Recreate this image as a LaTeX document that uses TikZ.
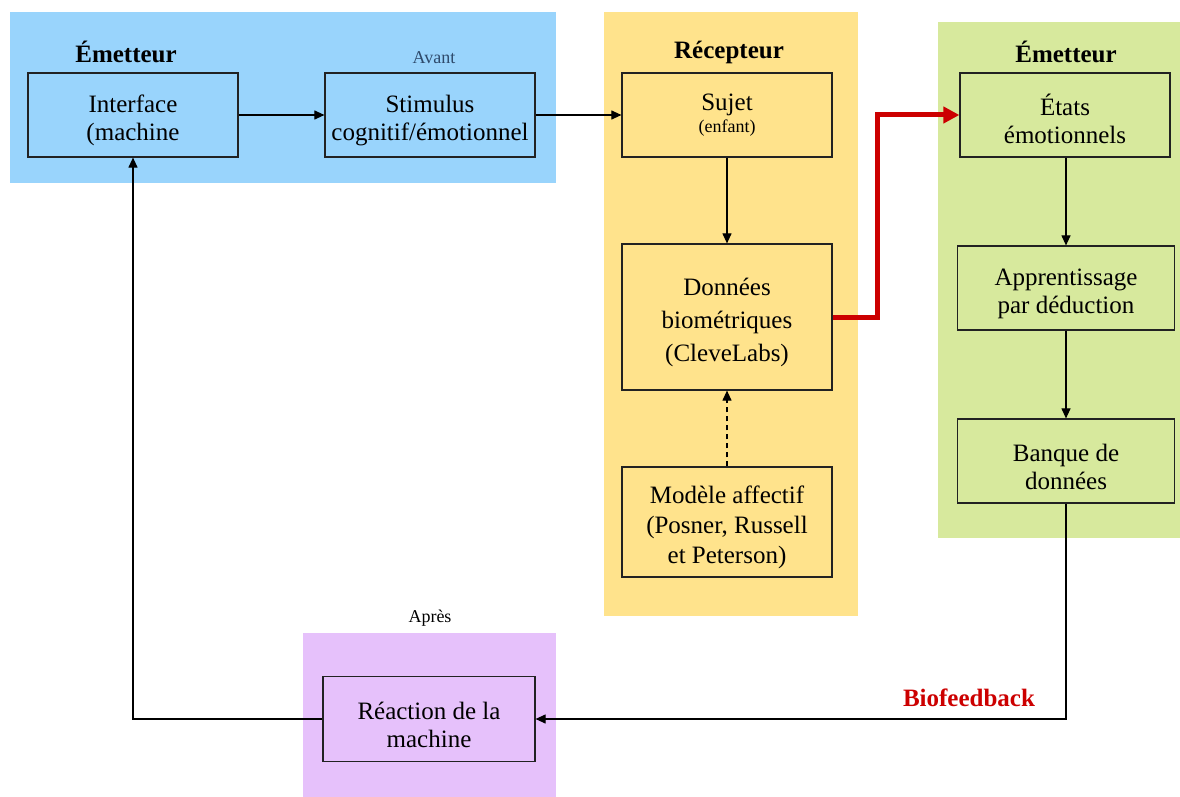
\documentclass[tikz,border=0pt]{standalone}
\usepackage{fontspec}
\setmainfont{Liberation Serif}
\usetikzlibrary{arrows.meta,calc}
\definecolor{pblue}{HTML}{99D4FC}
\definecolor{pyellow}{HTML}{FFE38C}
\definecolor{pgreen}{HTML}{D7E99D}
\definecolor{ppurple}{HTML}{E6C1FB}
\definecolor{avantc}{HTML}{2E4A6B}
\definecolor{redarrow}{HTML}{CC0000}
\definecolor{boxline}{HTML}{222222}
\newcommand{\lowstrut}{\rule{0pt}{29pt}}
\tikzset{
  box/.style={draw=boxline, line width=1.2pt, align=center, inner sep=0pt,
    font=\fontsize{25}{28}\selectfont},
  title/.style={font=\bfseries\fontsize{25}{28}\selectfont, inner sep=0pt},
  small/.style={font=\fontsize{18}{20}\selectfont, inner sep=0pt},
  conn/.style={draw=black, line width=1.1pt, -{Triangle[length=10pt,width=9pt]}},
}
\begin{document}
\begin{tikzpicture}[x=1pt,y=-1pt]
\useasboundingbox (0,0) rectangle (1180,797);
% panels
\fill[pblue] (10,12) rectangle (556,183);
\fill[pyellow] (604,12) rectangle (858,616);
\fill[pgreen] (938,22) rectangle (1180,538);
\fill[ppurple] (303,633) rectangle (556,797);
% titles
\node[title] (t1) at (126,52) {Émetteur};
\node[title] (t2) at (729,52) {Récepteur};
\node[title] (t3) at (1066,52) {Émetteur};
\node[small, text=avantc] (avant) at (434,58) {Avant};
\node[small] (apres) at (430,618) {Après};
\node[font=\bfseries\fontsize{25}{28}\selectfont, text=redarrow, inner sep=0pt] (bio) at (969,698) {Biofeedback};
% boxes
\node[box, minimum width=210, minimum height=84] (iface) at (133,115) {\lowstrut Interface\\(machine};
\node[box, minimum width=210, minimum height=84] (stim) at (430,115) {\lowstrut Stimulus\\cognitif/émotionnel};
\node[box, minimum width=210, minimum height=84] (sujet) at (727,115) {Sujet\\[-6pt]{\fontsize{18}{20}\selectfont(enfant)}};
\node[box, minimum width=210, minimum height=146, font=\fontsize{25}{33}\selectfont] (don) at (727,317) {\lowstrut Données\\biométriques\\(CleveLabs)};
\node[box, minimum width=210, minimum height=110, font=\fontsize{25}{30}\selectfont] (mod) at (727,522) {\lowstrut Modèle affectif\\(Posner, Russell\\et Peterson)};
\node[box, minimum width=210, minimum height=84] (etats) at (1065,115) {\lowstrut États\\émotionnels};
\node[box, minimum width=217, minimum height=84] (app) at (1066,288) {\lowstrut Apprentissage\\par déduction};
\node[box, minimum width=217, minimum height=84] (banque) at (1066,461) {\lowstrut Banque de\\données};
\node[box, minimum width=212, minimum height=85] (reac) at (429,719) {\lowstrut Réaction de la\\machine};
% connectors
\draw[conn] (iface) -- (stim);
\draw[conn] (stim) -- (sujet);
\draw[conn] (sujet) -- (don);
\draw[conn, dashed, dash pattern=on 5pt off 4pt] (mod) -- (don);
\draw[conn] (etats.south -| app.north) -- (app.north);
\draw[conn] (app) -- (banque);
\coordinate (rc) at (877,0);
\draw[draw=redarrow, line width=5pt, -{Triangle[length=16pt,width=16pt]}]
  (don.east) -| (rc |- etats.west) -- (etats.west);
\draw[conn] (banque.south) |- (reac.east);
\draw[conn] (reac.west) -| (iface.south);
\end{tikzpicture}
\end{document}
